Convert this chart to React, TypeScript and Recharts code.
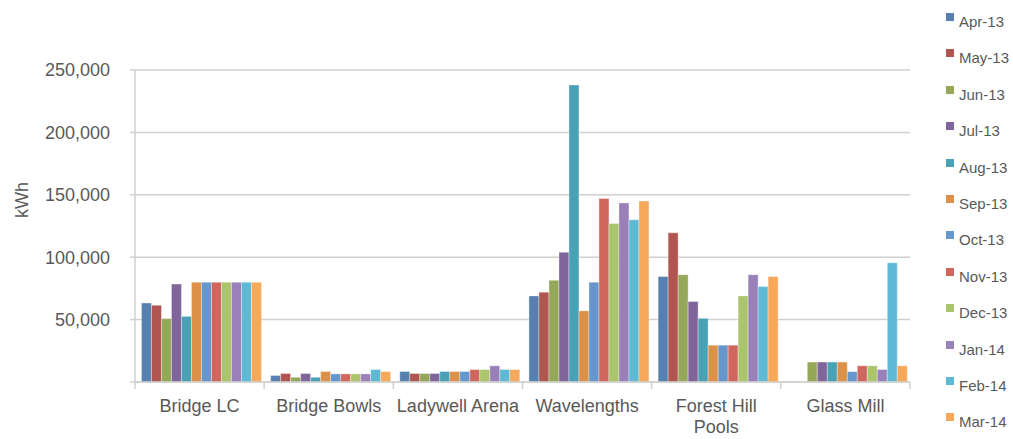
import React from "react";
import {
  BarChart,
  Bar,
  XAxis,
  YAxis,
  CartesianGrid,
  Legend,
  Label,
} from "recharts";

const sites = [
  "Bridge LC",
  "Bridge Bowls",
  "Ladywell Arena",
  "Wavelengths",
  "Forest Hill Pools",
  "Glass Mill",
];

const months = [
  "Apr-13", "May-13", "Jun-13", "Jul-13", "Aug-13", "Sep-13",
  "Oct-13", "Nov-13", "Dec-13", "Jan-14", "Feb-14", "Mar-14",
];

const monthColors = [
  "#5580B0", "#B05550", "#95A85A", "#80659A", "#4AA0B5", "#DC9048",
  "#6597CC", "#D0665E", "#ABC56C", "#9980B8", "#5EBAD4", "#F6A85B",
];

// monthly kWh per site, Apr-13 .. Mar-14
const bridgeLC = [63300, 61500, 50800, 78500, 52600, 80000, 80000, 80000, 80000, 80000, 80000, 80000];
const bridgeBowls = [5200, 6800, 3800, 6800, 3800, 8400, 6500, 6500, 6500, 6500, 10000, 8400];
const ladywellArena = [8400, 6800, 6800, 6800, 8400, 8400, 8400, 10000, 10000, 13000, 10000, 10000];
const wavelengths = [69000, 72000, 81500, 104000, 238000, 57000, 80000, 147000, 127000, 143500, 130000, 145000];
const forestHillPools = [84500, 119500, 86000, 64500, 51000, 29500, 29500, 29500, 69000, 86000, 76500, 84500];
const glassMill = [null, null, 16000, 16000, 16000, 16000, 8300, 13000, 13000, 10000, 95500, 13000];

const yTicks = [0, 50000, 100000, 150000, 200000, 250000];

const siteValues = [bridgeLC, bridgeBowls, ladywellArena, wavelengths, forestHillPools, glassMill];

const data = sites.map((site, i) => {
  const row: Record<string, string | number | null> = { site };
  months.forEach((m, j) => {
    row[m] = siteValues[i][j];
  });
  return row;
});

const FONT = '"Liberation Sans", Arial, sans-serif';
const TEXT = "#595959";
const GRID = "#D0D0D0";

const fmt = (v: number) => (v === 0 ? "" : v.toLocaleString("en-US"));

// long names go onto two lines, breaking before the last word
const splitLabel = (s: string) => {
  if (s.length <= 15) return [s];
  const cut = s.lastIndexOf(" ");
  return [s.slice(0, cut), s.slice(cut + 1)];
};

// category label plus a boundary tick on the left (and right for the last one)
const SiteTick = (props: any) => {
  const { x, y, payload, index } = props;
  const half = payload?.offset ?? 64.6;
  const last = index === sites.length - 1;
  const lines = splitLabel(String(payload.value));
  return (
    <g>
      <line x1={x - half} x2={x - half} y1={y - 17} y2={y - 10} stroke={GRID} strokeWidth={1.5} />
      {last && (
        <line x1={x + half} x2={x + half} y1={y - 17} y2={y - 10} stroke={GRID} strokeWidth={1.5} />
      )}
      <text x={x} y={y + 13} textAnchor="middle" fill={TEXT} fontSize={18} fontFamily={FONT}>
        {lines.map((l, i) => (
          <tspan key={l} x={x} dy={i === 0 ? 0 : 21}>
            {l}
          </tspan>
        ))}
      </text>
    </g>
  );
};

const MonthLegend = () => (
  <div style={{ fontFamily: FONT }}>
    {months.map((m, i) => (
      <div key={m} style={{ height: 36.4, display: "flex", alignItems: "flex-start" }}>
        <span style={{ width: 8, height: 8, background: monthColors[i], display: "inline-block", marginRight: 5 }} />
        <span style={{ fontSize: 15, lineHeight: "15px", marginTop: 1, color: TEXT, whiteSpace: "nowrap" }}>
          {m}
        </span>
      </div>
    ))}
  </div>
);

export default function App() {
  return (
    <div style={{ position: "absolute", left: 0, top: 0, width: 1013, height: 439, background: "#fff" }}>
      <BarChart
        width={1013}
        height={439}
        data={data}
        margin={{ top: 70, right: 103, bottom: 0, left: 0 }}
        barCategoryGap="5%"
        barGap={0}
      >
        <CartesianGrid vertical={false} stroke={GRID} strokeWidth={1.5} />
        <XAxis
          dataKey="site"
          height={57}
          interval={0}
          axisLine={{ stroke: GRID, strokeWidth: 1.5 }}
          tickLine={false}
          tickSize={6}
          tickMargin={11}
          tick={<SiteTick />}
        />
        <YAxis
          width={135}
          domain={[0, 250000]}
          ticks={yTicks}
          tickFormatter={fmt}
          axisLine={{ stroke: GRID, strokeWidth: 1.5 }}
          tickLine={{ stroke: GRID, strokeWidth: 1.5 }}
          tickSize={5}
          tickMargin={20}
          tick={{ fill: TEXT, fontSize: 18, fontFamily: FONT }}
        >
          <Label
            content={() => (
              <text
                x={22}
                y={200}
                transform="rotate(-90 22 200)"
                textAnchor="middle"
                dominantBaseline="central"
                fill={TEXT}
                fontSize={18}
                fontFamily={FONT}
              >
                kWh
              </text>
            )}
          />
        </YAxis>
        {/* right-hand border of the plot area */}
        <YAxis
          yAxisId="frame"
          orientation="right"
          width={0}
          domain={[0, 250000]}
          tick={false}
          tickLine={false}
          axisLine={{ stroke: GRID, strokeWidth: 1.5 }}
        />
        <Legend
          layout="vertical"
          align="center"
          verticalAlign="middle"
          content={<MonthLegend />}
          wrapperStyle={{ left: 946, top: 13, width: 67, height: 440 }}
        />
        {months.map((m, i) => (
          <Bar
            key={m}
            dataKey={m}
            name={m}
            fill={monthColors[i]}
            stroke="#ffffff"
            strokeOpacity={0.35}
            strokeWidth={1}
            isAnimationActive={false}
          />
        ))}
      </BarChart>
    </div>
  );
}
